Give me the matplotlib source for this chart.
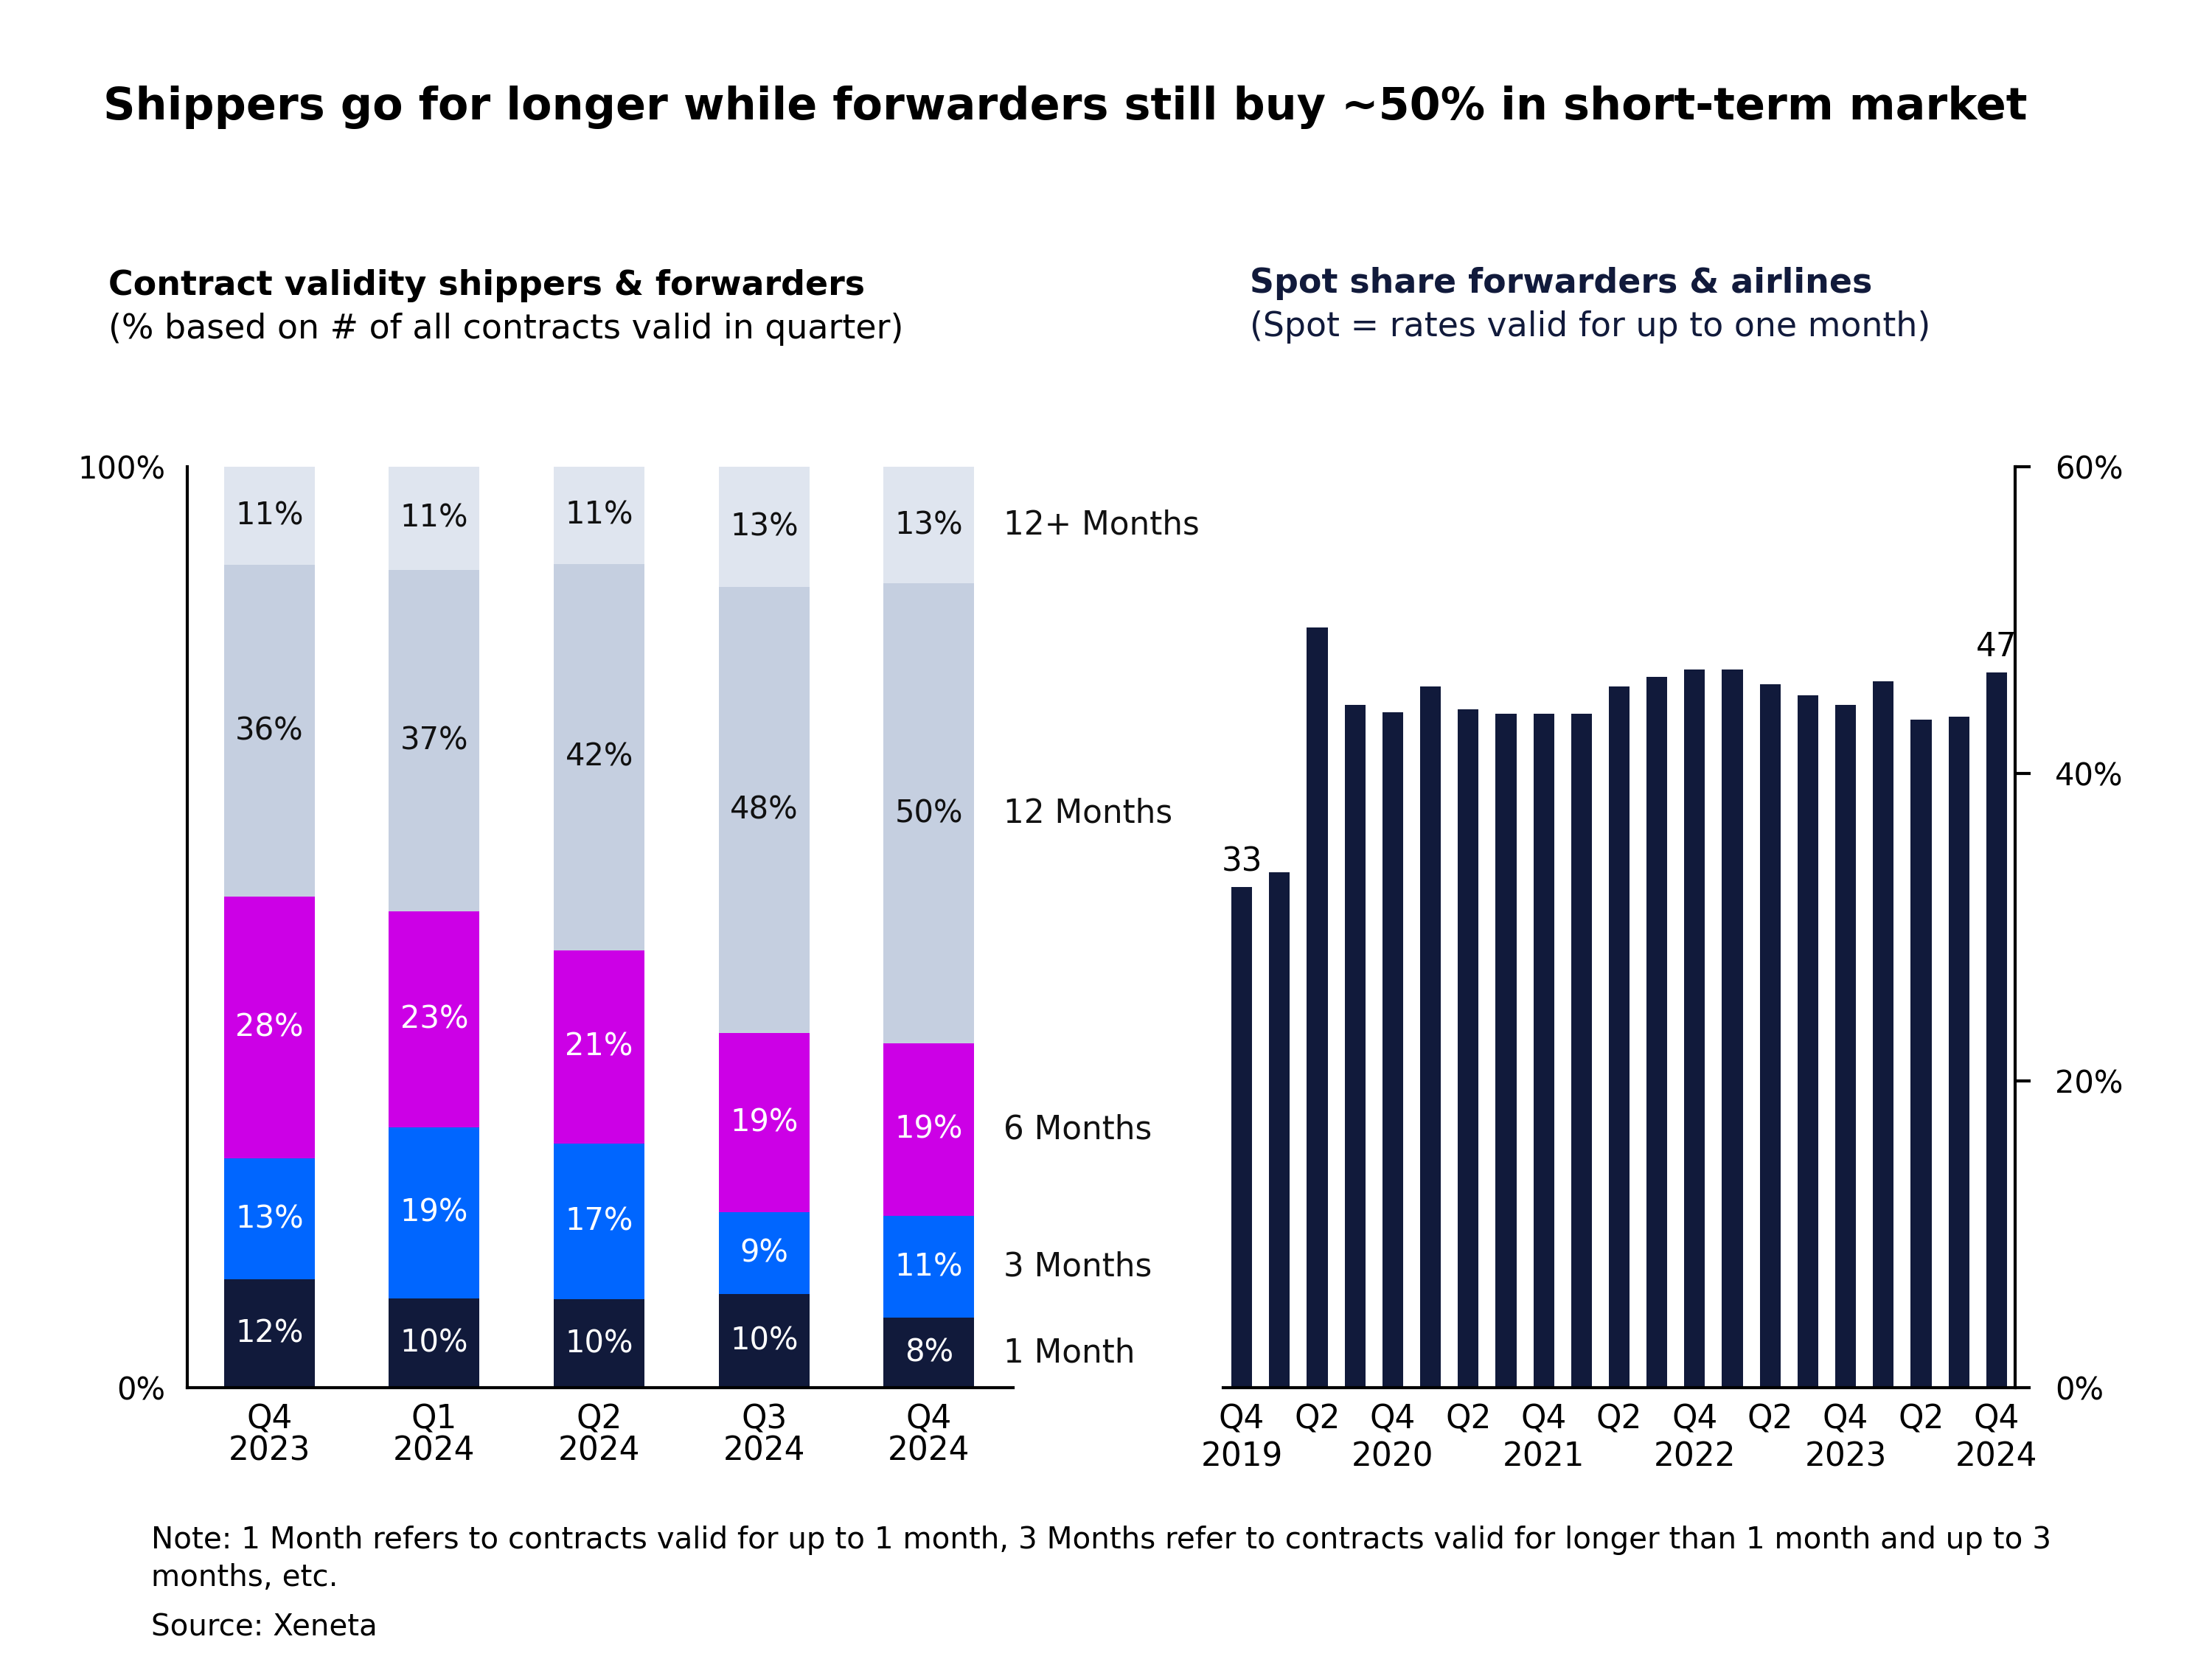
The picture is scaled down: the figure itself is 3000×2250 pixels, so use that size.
import numpy as np
import matplotlib.pyplot as plt

plt.rcParams['font.family'] = ['DejaVu Sans']

NAVY = '#111a3b'

# left chart: contract validity (share of contracts, %)
quarters = ['Q4\n2023', 'Q1\n2024', 'Q2\n2024', 'Q3\n2024', 'Q4\n2024']
month_1 = [11.8, 9.7, 9.6, 10.2, 7.6]
month_3 = [13.1, 18.6, 16.9, 8.9, 11.1]
month_6 = [28.4, 23.4, 21.0, 19.4, 18.7]
month_12 = [36.0, 37.1, 41.9, 48.4, 49.9]
month_12plus = [10.7, 11.2, 10.6, 13.1, 12.7]
segment_names = ['1 Month', '3 Months', '6 Months', '12 Months', '12+ Months']

# right chart: spot share forwarders & airlines (%), Q4 2019 .. Q4 2024
spot_quarters = ['Q4\n2019', 'Q1', 'Q2', 'Q3', 'Q4\n2020', 'Q1', 'Q2', 'Q3', 'Q4\n2021', 'Q1', 'Q2',
                 'Q3', 'Q4\n2022', 'Q1', 'Q2', 'Q3', 'Q4\n2023', 'Q1', 'Q2', 'Q3', 'Q4\n2024']
spot_share = [32.6, 33.6, 49.5, 44.5, 44.0, 45.7, 44.2, 43.9, 43.9, 43.9, 45.7,
              46.3, 46.8, 46.8, 45.8, 45.1, 44.5, 46.0, 43.5, 43.7, 46.6]

seg_colors = [NAVY, '#0066ff', '#cc00e6', '#c5cfe0', '#dfe5ef']
seg_text = ['white', 'white', 'white', '#111111', '#111111']

fig = plt.figure(figsize=(10, 7.5), dpi=300)

fig.text(0.0465, 0.9355, 'Shippers go for longer while forwarders still buy ~50% in short-term market',
         fontsize=14.5, fontweight='bold', color='black', va='center', ha='left')
fig.text(0.049, 0.828, 'Contract validity shippers & forwarders', fontsize=11,
         fontweight='bold', color='black', va='center')
fig.text(0.049, 0.8014, '(% based on # of all contracts valid in quarter)', fontsize=11,
         color='black', va='center')
fig.text(0.565, 0.829, 'Spot share forwarders & airlines', fontsize=11,
         fontweight='bold', color=NAVY, va='center')
fig.text(0.565, 0.803, '(Spot = rates valid for up to one month)', fontsize=11,
         color=NAVY, va='center')

# ---- left: stacked 100% bars
ax1 = fig.add_axes([0.0845, 0.1634, 0.3735, 0.5554])
x = np.arange(len(quarters))
segments = [month_1, month_3, month_6, month_12, month_12plus]
bottom = np.zeros(len(quarters))
for vals, col, tcol, name in zip(segments, seg_colors, seg_text, segment_names):
    vals = np.array(vals)
    ax1.bar(x, vals, bottom=bottom, width=0.55, color=col)
    for xi, b, v in zip(x, bottom, vals):
        ax1.text(xi, b + v / 2, f'{v:.0f}%', ha='center', va='center', fontsize=10, color=tcol)
    ax1.text(4.45, bottom[-1] + vals[-1] / 2, name, ha='left', va='center', fontsize=10.5,
             color='#111111', clip_on=False)
    bottom += vals

ax1.set_xlim(-0.5, 4.51)
ax1.set_ylim(0, 100)
ax1.set_yticks([0, 100])
ax1.set_yticklabels(['0%', '100%'])
ax1.set_xticks(x)
ax1.set_xticklabels(quarters, linespacing=1.0)
ax1.tick_params(axis='y', length=0, pad=7, labelsize=10)
ax1.tick_params(axis='x', length=0, pad=5, labelsize=10.5)
for s in ['top', 'right']:
    ax1.spines[s].set_visible(False)
for s in ['left', 'bottom']:
    ax1.spines[s].set_linewidth(1.0)

# ---- right: spot share bars
ax2 = fig.add_axes([0.553, 0.1634, 0.358, 0.5554])
xs = np.arange(len(spot_share))
ax2.bar(xs, spot_share, width=0.55, color=NAVY)
ax2.text(xs[0], spot_share[0] + 0.6, f'{spot_share[0]:.0f}', ha='center', va='bottom', fontsize=10.5)
ax2.text(xs[-1], spot_share[-1] + 0.6, f'{spot_share[-1]:.0f}', ha='center', va='bottom', fontsize=10.5)
ax2.set_xlim(-0.49, 20.49)
ax2.set_ylim(0, 60)
ax2.yaxis.tick_right()
ax2.set_yticks([0, 20, 40, 60])
ax2.set_yticklabels(['0%', '20%', '40%', '60%'])
ax2.set_xticks(xs[::2])
ax2.set_xticklabels(spot_quarters[::2], linespacing=1.25)
ax2.tick_params(axis='y', length=5, width=1.0, pad=8, labelsize=10, direction='out')
ax2.tick_params(axis='x', length=0, pad=5, labelsize=10.5)
for s in ['top', 'left']:
    ax2.spines[s].set_visible(False)
for s in ['right', 'bottom']:
    ax2.spines[s].set_linewidth(1.0)

fig.text(0.0684, 0.0714, 'Note: 1 Month refers to contracts valid for up to 1 month, 3 Months refer to '
         'contracts valid for longer than 1 month and up to 3', fontsize=9.7, va='center')
fig.text(0.0684, 0.049, 'months, etc.', fontsize=9.7, va='center')
fig.text(0.0684, 0.0189, 'Source: Xeneta', fontsize=9.7, va='center')

fig.savefig('out.png', dpi=300, facecolor='white')
